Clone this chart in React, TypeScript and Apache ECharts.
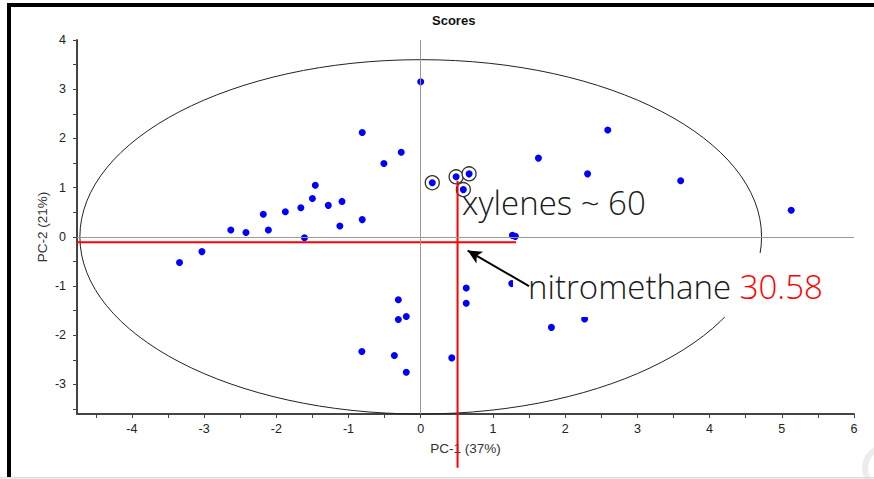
import React, { useEffect, useRef } from "react";
import * as echarts from "echarts";

// PCA scores (PC-1, PC-2)
const pc1Scores = [
  0.0, -0.81, -0.51, -0.27, -1.46, -1.5, -1.28, -1.09, -1.66, -1.875, -2.18,
  -2.63, -2.42, -2.11, -1.12, -0.81, -1.61, -3.34, -3.03, -0.31, -0.31, -0.2,
  -0.815, -0.365, -0.2, 2.59, 1.63, 2.31, 3.6, 5.13, 1.27, 1.31, 1.26, 0.63,
  0.63, 1.81, 0.43, 2.27,
];
const pc2Scores = [
  3.15, 2.12, 1.49, 1.72, 1.05, 0.78, 0.64, 0.72, 0.59, 0.51, 0.46, 0.14, 0.09,
  0.14, 0.22, 0.35, -0.02, -0.52, -0.3, -1.28, -1.68, -1.62, -2.33, -2.41,
  -2.75, 2.17, 1.6, 1.28, 1.14, 0.54, 0.03, 0.01, -0.95, -1.04, -1.35, -1.84,
  -2.46, -1.67,
];
// highlighted (circled) samples
const highlightPc1 = [0.16, 0.49, 0.67, 0.59];
const highlightPc2 = [1.1, 1.22, 1.28, 0.96];

const xLabelTicks = [-4, -3, -2, -1, 0, 1, 2, 3, 4, 5, 6];
const xMinorTicks = [-4.5, -4, -3.5, -3, -2.5, -2, -1.5, -1, -0.5, 0, 0.5, 1, 1.5, 2, 2.5, 3, 3.5, 4, 4.5, 5, 5.5, 6];
const yLabelTicks = [-3, -2, -1, 0, 1, 2, 3, 4];
const yMinorTicks = [-3.5, -3, -2.5, -2, -1.5, -1, -0.5, 0, 0.5, 1, 1.5, 2, 2.5, 3, 3.5, 4];
const xRange = [-4.76, 6];
const yRange = [-3.6, 4];

// Hotelling ellipse (center, semi-axes)
const ellipseCenter = [0, 0];
const ellipseRadii = [4.72, 3.6];

// red cut lines
const redVertical = [[0.51, 1.14], [0.51, -4.69]];
const redHorizontal = [[-4.76, -0.11], [1.32, -0.11]];
// arrow (from, to)
const arrowFrom = [1.5, -1.0];
const arrowTo = [0.65, -0.28];

export default function App() {
  const ref = useRef<HTMLDivElement>(null);
  useEffect(() => {
    if (!ref.current) return;
    const chart = echarts.init(ref.current, undefined, { renderer: "svg" });
    const pts = pc1Scores.map((x, i) => [x, pc2Scores[i]]);
    const hi = highlightPc1.map((x, i) => [x, highlightPc2[i]]);
    const axisFont = { fontFamily: "Liberation Sans, Arial, sans-serif", fontSize: 12.5, color: "#222" };
    const nameFont = { fontFamily: "Liberation Sans, Arial, sans-serif", fontSize: 13.5, color: "#333" };
    chart.setOption({
      animation: false,
      backgroundColor: "#fff",
      title: {
        text: "Scores",
        left: 427,
        top: 9,
        textStyle: { fontFamily: "Liberation Sans, Arial, sans-serif", fontSize: 13, fontWeight: "bold", color: "#111" },
      },
      grid: { left: 77, right: 20, top: 40, bottom: 65, outerBoundsMode: "none" },
      xAxis: {
        type: "value",
        min: xRange[0],
        max: xRange[1],
        name: "PC-1 (37%)",
        nameLocation: "middle",
        nameGap: 27,
        nameMoveOverlap: false,
        nameTextStyle: nameFont,
        axisLine: { show: true, onZero: false, lineStyle: { color: "#444", width: 2 } },
        axisTick: { show: true, customValues: xMinorTicks, length: 4, lineStyle: { color: "#444", width: 1 } },
        axisLabel: { customValues: xLabelTicks, margin: 8, ...axisFont },
        splitLine: { show: false },
      },
      yAxis: {
        type: "value",
        min: yRange[0],
        max: yRange[1],
        name: "PC-2 (21%)",
        nameLocation: "middle",
        nameGap: 28,
        nameMoveOverlap: false,
        nameTextStyle: nameFont,
        axisLine: { show: true, onZero: false, lineStyle: { color: "#444", width: 2 } },
        axisTick: { show: true, customValues: yMinorTicks, length: 4, lineStyle: { color: "#444", width: 1 } },
        axisLabel: { customValues: yLabelTicks, margin: 11, ...axisFont },
        splitLine: { show: false },
      },
      series: [
        {
          type: "custom",
          silent: true,
          clip: false,
          z: 1,
          data: [ellipseCenter],
          renderItem: (_p: any, api: any) => {
            const c = api.coord(ellipseCenter);
            const e = api.coord([ellipseCenter[0] + ellipseRadii[0], ellipseCenter[1] + ellipseRadii[1]]);
            return {
              type: "ellipse",
              shape: { cx: c[0], cy: c[1], rx: e[0] - c[0], ry: c[1] - e[1] },
              style: { fill: "none", stroke: "#222", lineWidth: 1 },
            };
          },
        },
        {
          type: "scatter",
          symbol: "circle",
          symbolSize: 7,
          itemStyle: { color: "#0000ff", opacity: 1 },
          data: pts,
          z: 3,
          markLine: {
            silent: true,
            symbol: "none",
            label: { show: false },
            lineStyle: { color: "#999", width: 1, type: "solid" },
            data: [{ xAxis: 0 }, { yAxis: 0 }],
          },
        },
        {
          type: "scatter",
          symbol: "circle",
          symbolSize: 14,
          itemStyle: { color: "#ffffff", borderColor: "#333", borderWidth: 1.3, opacity: 1 },
          data: hi,
          z: 3,
        },
        {
          type: "scatter",
          symbol: "circle",
          symbolSize: 7,
          itemStyle: { color: "#0000ff", opacity: 1 },
          data: hi,
          z: 3,
        },
        {
          type: "line",
          data: redVertical,
          clip: false,
          symbol: "none",
          lineStyle: { color: "#ff0000", width: 2 },
          z: 4,
        },
        {
          type: "line",
          data: redHorizontal,
          clip: false,
          symbol: "none",
          lineStyle: { color: "#ff0000", width: 2 },
          z: 4,
        },
        {
          type: "line",
          data: [],
          z: 10,
          markLine: {
            silent: true,
            symbol: ["none", "arrow"],
            symbolSize: [10, 14],
            label: { show: false },
            lineStyle: { color: "#000", width: 2, type: "solid" },
            data: [[{ coord: arrowFrom }, { coord: arrowTo }]],
          },
        },
      ],
      graphic: [
        { type: "rect", z: 5, shape: { x: 513, y: 253, width: 322, height: 64 }, style: { fill: "#fff" } },
        {
          type: "text",
          z: 20,
          x: 462,
          y: 202,
          style: {
            text: "xylenes ~ 60",
            font: '300 33px "Open Sans"',
            fill: "#1a1a1a",
            verticalAlign: "middle",
          },
        },
        {
          type: "text",
          z: 20,
          x: 528,
          y: 286,
          style: {
            text: "{a|nitromethane }{b|30.58}",
            verticalAlign: "middle",
            rich: {
              a: { fontFamily: "Open Sans", fontWeight: 300, fontSize: 33, fill: "#1a1a1a" },
              b: { fontFamily: "Open Sans", fontWeight: 300, fontSize: 33, fill: "#ff0000" },
            },
          },
        },
        { type: "rect", z: 30, shape: { x: 7, y: 3, width: 867, height: 4 }, style: { fill: "#000" } },
        { type: "rect", z: 30, shape: { x: 7, y: 3, width: 4, height: 475 }, style: { fill: "#000" } },
        { type: "rect", z: 30, shape: { x: 0, y: 477, width: 874, height: 1.5 }, style: { fill: "#dcdcdc" } },
        { type: "circle", z: 25, shape: { cx: 886, cy: 468, r: 21 }, style: { fill: "none", stroke: "#ececec", lineWidth: 6 } },
      ],
    });
    return () => chart.dispose();
  }, []);
  return <div ref={ref} style={{ position: "fixed", left: 0, top: 0, width: 874, height: 479 }} />;
}
